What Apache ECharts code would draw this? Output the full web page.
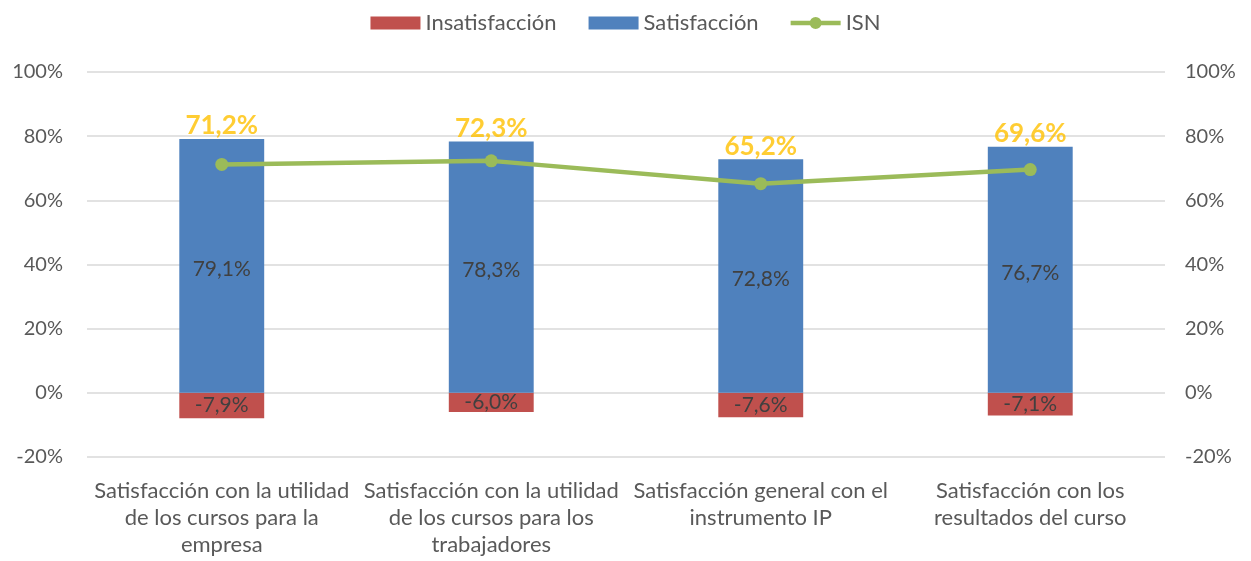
<!DOCTYPE html>
<html>
<head>
<meta charset="utf-8">
<script src="https://cdn.jsdelivr.net/npm/echarts@6/dist/echarts.min.js"></script>
<style>
  html, body { margin: 0; padding: 0; background: #fff; }
  #chart { width: 1251px; height: 561px; }
</style>
</head>
<body>
<div id="chart"></div>
<script>
var categories = [
  'Satisfacción con la utilidad\nde los cursos para la\nempresa',
  'Satisfacción con la utilidad\nde los cursos para los\ntrabajadores',
  'Satisfacción general con el\ninstrumento IP',
  'Satisfacción con los\nresultados del curso'
];
var insatisfaccion = [-7.9, -6.0, -7.6, -7.1];
var satisfaccion = [79.1, 78.3, 72.8, 76.7];
var isn = [71.2, 72.3, 65.2, 69.6];
var axisTicks = [-20, 0, 20, 40, 60, 80, 100];

var font = 'Lato';
function pct(v) { return v.toFixed(1).replace('.', ',') + '%'; }

// line with a dot in the middle, for the legend
var lineDot = 'path://M0,4 L21,4 A6.5,6.5 0 0 1 33,4 L54,4 L54,9 L33,9 A6.5,6.5 0 0 1 21,9 L0,9 Z';

var chart = echarts.init(document.getElementById('chart'));
chart.setOption({
  textStyle: { fontFamily: font },
  animation: false,
  legend: {
    top: 7,
    left: 'center',
    itemGap: 32,
    itemWidth: 50,
    itemHeight: 13,
    textStyle: { fontSize: 22, color: '#595959', fontFamily: font },
    data: [
      { name: 'Insatisfacción', icon: 'rect' },
      { name: 'Satisfacción', icon: 'rect' },
      { name: 'ISN', icon: lineDot, itemStyle: { color: '#9BBB59' } }
    ]
  },
  grid: { left: 87, right: 86, top: 72, bottom: 104 },
  xAxis: {
    type: 'category',
    data: categories,
    axisLine: { show: false },
    axisTick: { show: false },
    axisLabel: {
      fontSize: 22, color: '#595959', lineHeight: 27, margin: 20,
      interval: 0, fontFamily: font
    }
  },
  yAxis: [
    {
      type: 'value', min: axisTicks[0], max: axisTicks[axisTicks.length - 1], interval: 20,
      axisLine: { show: false }, axisTick: { show: false },
      splitLine: { lineStyle: { color: '#D9D9D9', width: 1.5 } },
      axisLabel: { fontSize: 20, color: '#595959', margin: 24, formatter: '{value}%', fontFamily: font }
    },
    {
      type: 'value', min: axisTicks[0], max: axisTicks[axisTicks.length - 1], interval: 20,
      axisLine: { show: false }, axisTick: { show: false },
      splitLine: { show: false },
      axisLabel: { fontSize: 20, color: '#595959', margin: 20, formatter: '{value}%', fontFamily: font }
    }
  ],
  series: [
    {
      name: 'Insatisfacción', type: 'bar', stack: 's', data: insatisfaccion,
      barWidth: '31.5%',
      itemStyle: { color: '#C0504D' },
      label: {
        show: true, position: 'inside', color: '#404040', fontSize: 21, fontFamily: font,
        formatter: function (p) { return pct(p.value); }
      }
    },
    {
      name: 'Satisfacción', type: 'bar', stack: 's', data: satisfaccion,
      barWidth: '31.5%',
      itemStyle: { color: '#4F81BD' },
      label: {
        show: true, position: 'inside', offset: [0, 3], color: '#404040', fontSize: 21, fontFamily: font,
        formatter: function (p) { return pct(p.value); }
      }
    },
    {
      name: 'ISN', type: 'line', data: isn,
      lineStyle: { color: '#9BBB59', width: 4.5 },
      itemStyle: { color: '#9BBB59' },
      symbol: 'circle', symbolSize: 13,
      z: 5
    },
    {
      name: 'ISN etiqueta', type: 'scatter', data: satisfaccion,
      symbolSize: 0, silent: true,
      label: {
        show: true, position: 'top', distance: 0,
        color: '#FFC000', fontSize: 26, fontWeight: 'bold', fontFamily: font,
        formatter: function (p) { return pct(isn[p.dataIndex]); }
      },
      z: 6
    }
  ]
});
</script>
</body>
</html>
